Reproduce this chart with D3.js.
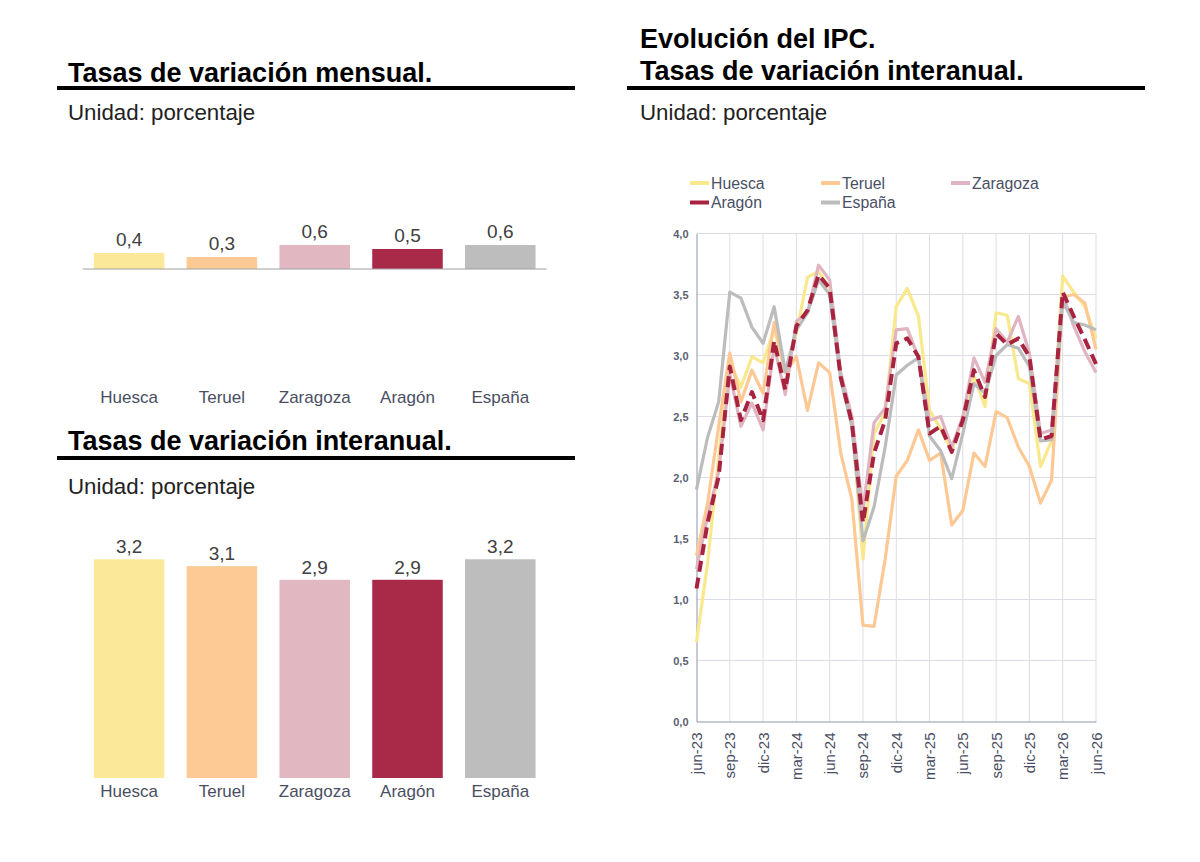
<!DOCTYPE html>
<html>
<head>
<meta charset="utf-8">
<script src="https://cdn.jsdelivr.net/npm/d3@7"></script>
<style>
  html, body { margin: 0; padding: 0; background: #fff; }
  svg { display: block; font-family: "Liberation Sans", Arial, sans-serif; }
</style>
</head>
<body>
<svg id="chart" width="1200" height="862"></svg>
<script>
// ---------- DATA ----------
const regions = ["Huesca", "Teruel", "Zaragoza", "Aragón", "España"];
const monthlyRates = [0.4, 0.3, 0.6, 0.5, 0.6];
const annualRates = [3.2, 3.1, 2.9, 2.9, 3.2];

const months = ["jun-23","jul-23","ago-23","sep-23","oct-23","nov-23","dic-23","ene-24","feb-24","mar-24","abr-24","may-24",
  "jun-24","jul-24","ago-24","sep-24","oct-24","nov-24","dic-24","ene-25","feb-25","mar-25","abr-25","may-25",
  "jun-25","jul-25","ago-25","sep-25","oct-25","nov-25","dic-25","ene-26","feb-26","mar-26","abr-26","may-26","jun-26"];

const huesca = [0.65,1.30,2.17,2.95,2.74,2.99,2.94,3.22,2.86,3.18,3.64,3.69,
  3.55,2.82,2.48,1.33,2.36,2.53,3.40,3.55,3.32,2.55,2.40,2.22,
  2.50,2.83,2.58,3.35,3.33,2.81,2.77,2.09,2.30,3.65,3.52,3.40,3.14];
const teruel = [1.36,1.79,2.42,3.02,2.62,2.88,2.69,3.27,2.86,2.99,2.55,2.94,
  2.86,2.20,1.82,0.79,0.78,1.33,2.01,2.14,2.39,2.14,2.20,1.61,
  1.73,2.20,2.09,2.54,2.49,2.25,2.09,1.79,1.98,3.48,3.50,3.43,3.05];
const zaragoza = [1.25,1.68,2.05,2.85,2.42,2.61,2.39,3.08,2.68,3.28,3.35,3.74,
  3.62,2.86,2.50,1.73,2.45,2.57,3.21,3.22,2.98,2.47,2.50,2.25,
  2.50,2.98,2.78,3.22,3.11,3.32,3.02,2.36,2.39,3.50,3.24,3.03,2.86];
const aragon = [1.09,1.63,2.01,2.91,2.47,2.70,2.47,3.12,2.72,3.24,3.37,3.66,
  3.55,2.82,2.45,1.63,2.20,2.47,3.10,3.14,2.99,2.36,2.42,2.21,
  2.47,2.88,2.66,3.18,3.09,3.14,2.99,2.31,2.34,3.52,3.32,3.13,2.93];
const espana = [1.90,2.33,2.62,3.52,3.47,3.23,3.10,3.40,2.87,3.21,3.35,3.62,
  3.50,2.80,2.42,1.48,1.76,2.25,2.84,2.92,2.98,2.34,2.22,1.99,
  2.36,2.77,2.69,3.00,3.09,3.06,2.91,2.30,2.31,3.44,3.27,3.25,3.21];

const yTickValues = [0, 0.5, 1, 1.5, 2, 2.5, 3, 3.5, 4];

// ---------- STYLE ----------
const barColors = ["#fbe898", "#fdc994", "#e1b7c1", "#a82a48", "#bdbdbd"];
const lineColors = ["#f9e88c", "#fdc894", "#e0b4c0", "#a8233f", "#bcbcbc"];
const fmt = v => d3.format(".1f")(v).replace(".", ",");

const svg = d3.select("#chart");
svg.append("rect").attr("width", 1200).attr("height", 862).attr("fill", "#fff");

function header(g, lines, x, y0, lineGap, ruleX1, ruleX2, ruleY, unitY) {
  lines.forEach((t, i) => {
    g.append("text").attr("x", x).attr("y", y0 + i * lineGap)
      .attr("font-size", 27).attr("font-weight", "bold").attr("fill", "#000").text(t);
  });
  g.append("line").attr("x1", ruleX1).attr("x2", ruleX2).attr("y1", ruleY).attr("y2", ruleY)
    .attr("stroke", "#000").attr("stroke-width", 4);
  g.append("text").attr("x", x).attr("y", unitY)
    .attr("font-size", 22.3).attr("fill", "#222").text("Unidad: porcentaje");
}

// ---------- BAR CHART 1 (mensual) ----------
header(svg, ["Tasas de variación mensual."], 68, 82, 0, 57, 575, 88, 120);

const xb = d3.scaleBand().domain(regions).range([82.7, 546.7]).paddingInner(0.24).paddingOuter(0.12);
const y1 = d3.scaleLinear().domain([0, 1]).range([269, 229]);
const g1 = svg.append("g");
g1.selectAll("rect").data(monthlyRates).join("rect")
  .attr("x", (d, i) => xb(regions[i])).attr("width", xb.bandwidth())
  .attr("y", d => y1(d)).attr("height", d => y1(0) - y1(d))
  .attr("fill", (d, i) => barColors[i]);
g1.append("line").attr("x1", 82.7).attr("x2", 546.7).attr("y1", y1(0)).attr("y2", y1(0))
  .attr("stroke", "#a0a0a0").attr("stroke-width", 1);
g1.selectAll("text.val").data(monthlyRates).join("text").attr("class", "val")
  .attr("x", (d, i) => xb(regions[i]) + xb.bandwidth() / 2).attr("y", d => y1(d) - 7)
  .attr("text-anchor", "middle").attr("font-size", 19).attr("fill", "#404040").text(d => fmt(d));
g1.selectAll("text.cat").data(regions).join("text").attr("class", "cat")
  .attr("x", d => xb(d) + xb.bandwidth() / 2).attr("y", 403)
  .attr("text-anchor", "middle").attr("font-size", 17).attr("fill", "#4a4e63").text(d => d);

// ---------- BAR CHART 2 (interanual) ----------
header(svg, ["Tasas de variación interanual."], 68, 450, 0, 57, 575, 458, 494);

const y2 = d3.scaleLinear().domain([0, 4]).range([778, 778 - 4 * 68.35]);
const g2 = svg.append("g");
g2.selectAll("rect").data(annualRates).join("rect")
  .attr("x", (d, i) => xb(regions[i])).attr("width", xb.bandwidth())
  .attr("y", d => y2(d)).attr("height", d => y2(0) - y2(d))
  .attr("fill", (d, i) => barColors[i]);
g2.selectAll("text.val").data(annualRates).join("text").attr("class", "val")
  .attr("x", (d, i) => xb(regions[i]) + xb.bandwidth() / 2).attr("y", d => y2(d) - 6)
  .attr("text-anchor", "middle").attr("font-size", 19).attr("fill", "#404040").text(d => fmt(d));
g2.selectAll("text.cat").data(regions).join("text").attr("class", "cat")
  .attr("x", d => xb(d) + xb.bandwidth() / 2).attr("y", 797)
  .attr("text-anchor", "middle").attr("font-size", 17).attr("fill", "#4a4e63").text(d => d);

// ---------- LINE CHART ----------
header(svg, ["Evolución del IPC.", "Tasas de variación interanual."], 640, 48, 32, 627, 1145, 88, 120);

const xl = d3.scalePoint().domain(months).range([696.5, 1096]);
const yl = d3.scaleLinear().domain([0, 4]).range([721.5, 233.5]);
const g3 = svg.append("g");
const quarterTicks = months.filter((d, i) => i % 3 === 0);

// grid
g3.selectAll("line.hg").data(yTickValues.slice(1)).join("line").attr("class", "hg")
  .attr("x1", xl(months[0])).attr("x2", xl(months[months.length - 1]))
  .attr("y1", d => yl(d)).attr("y2", d => yl(d)).attr("stroke", "#dcdde5").attr("stroke-width", 1);
g3.selectAll("line.vg").data(quarterTicks.slice(1)).join("line").attr("class", "vg")
  .attr("x1", d => xl(d)).attr("x2", d => xl(d))
  .attr("y1", yl(0)).attr("y2", yl(4)).attr("stroke", "#dcdde5").attr("stroke-width", 1);

// axes
const yAxis = d3.axisLeft(yl).tickValues(yTickValues).tickFormat(fmt).tickSize(0).tickPadding(8);
const ya = g3.append("g").attr("transform", `translate(${xl(months[0])},0)`).call(yAxis);
ya.select(".domain").attr("stroke", "#8f93a8");
ya.selectAll("text").attr("font-size", 11).attr("font-weight", "bold").attr("fill", "#5a5e72")
  .attr("font-family", "'Liberation Sans', Arial, sans-serif");

const xAxis = d3.axisBottom(xl).tickValues(quarterTicks).tickSize(0).tickPadding(0);
const xa = g3.append("g").attr("transform", `translate(0,${yl(0)})`).call(xAxis);
xa.select(".domain").attr("stroke", "#8f93a8");
xa.selectAll("text").attr("font-size", 15).attr("fill", "#4a4e63")
  .attr("font-family", "'Liberation Sans', Arial, sans-serif")
  .attr("text-anchor", "end").attr("dy", null).attr("y", 0)
  .attr("transform", "translate(5,11) rotate(-90)");

// lines
const seriesList = [huesca, teruel, zaragoza, espana, aragon];
const seriesColorIdx = [0, 1, 2, 4, 3];
const line = d3.line().x((d, i) => xl(months[i])).y(d => yl(d));
seriesList.forEach((s, k) => {
  const ci = seriesColorIdx[k];
  const isAragon = ci === 3;
  g3.append("path").datum(s).attr("d", line).attr("fill", "none")
    .attr("stroke", lineColors[ci]).attr("stroke-width", isAragon ? 4 : 3.2)
    .attr("stroke-dasharray", isAragon ? "11,6" : null)
    .attr("stroke-linejoin", "round");
});

// legend
const legendPos = [[690, 183], [821, 183], [951, 183], [690, 202.5], [821, 202.5]];
regions.forEach((r, i) => {
  const [lx, ly] = legendPos[i];
  g3.append("line").attr("x1", lx).attr("x2", lx + 19).attr("y1", ly).attr("y2", ly)
    .attr("stroke", lineColors[i]).attr("stroke-width", 4);
  g3.append("text").attr("x", lx + 21).attr("y", ly + 5.5).attr("font-size", 15.8)
    .attr("fill", "#4a4f66").text(r);
});
</script>
</body>
</html>
